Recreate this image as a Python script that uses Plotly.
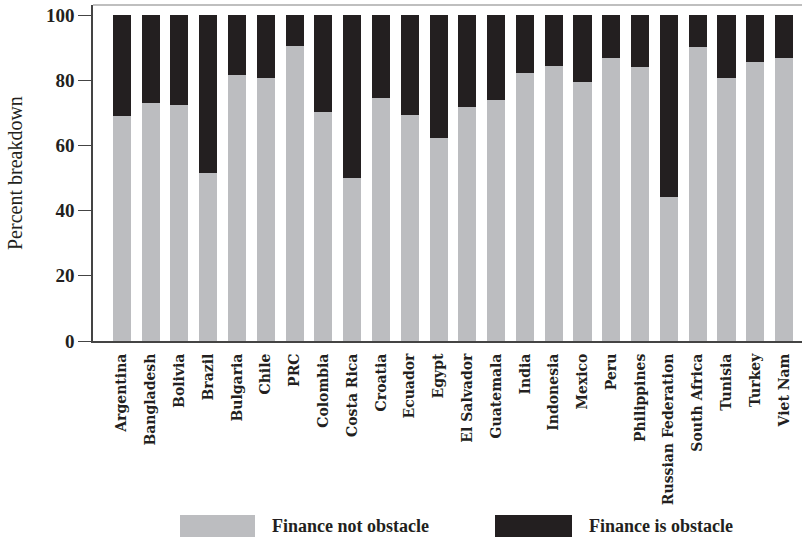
import plotly.graph_objects as go

countries = ["Argentina", "Bangladesh", "Bolivia", "Brazil", "Bulgaria", "Chile", "PRC",
             "Colombia", "Costa Rica", "Croatia", "Ecuador", "Egypt", "El Salvador",
             "Guatemala", "India", "Indonesia", "Mexico", "Peru", "Philippines",
             "Russian Federation", "South Africa", "Tunisia", "Turkey", "Viet Nam"]
not_obstacle = [69.0, 73.0, 72.3, 51.6, 81.7, 80.8, 90.4, 70.1, 50.1, 74.6, 69.4, 62.4,
                71.8, 73.8, 82.3, 84.5, 79.3, 86.9, 84.2, 44.1, 90.3, 80.8, 85.7, 86.8]
is_obstacle = [round(100 - v, 1) for v in not_obstacle]
y_ticks = [0, 20, 40, 60, 80, 100]

GRAY = "#BCBDC0"
BLACK = "#231F20"
SERIF = "Liberation Serif"
LABEL_FONT = "DejaVu Serif"

# plot-area geometry in pixels
L, T, R, B = 93, 5, 802, 341
W, H = R - L, B - T


def px(x):
    return (x - L) / W


def py(y):
    return (B - y) / H


fig = go.Figure()
fig.add_trace(go.Bar(x=countries, y=not_obstacle, name="Finance not obstacle",
                     marker=dict(color=GRAY, line=dict(width=0))))
fig.add_trace(go.Bar(x=countries, y=is_obstacle, name="Finance is obstacle",
                     marker=dict(color=BLACK, line=dict(width=0))))

fig.update_layout(
    width=802, height=540,
    barmode="stack", bargap=0.37,
    showlegend=False,
    plot_bgcolor="white", paper_bgcolor="white",
    margin=dict(l=L, r=802 - R, t=T, b=540 - B),
    font=dict(family=SERIF, color="#231F20"),
    xaxis=dict(
        type="category", range=[-1.0, 23.62], automargin=False,
        showline=True, linecolor="#444", linewidth=2,
        ticks="", tickangle=-90, ticklabelstandoff=5,
        tickfont=dict(family=LABEL_FONT, size=14, weight="bold", color="#231F20"),
        showgrid=False, zeroline=False,
    ),
    yaxis=dict(
        range=[0, 103.07], tickvals=y_ticks, automargin=False,
        showline=True, linecolor="#444", linewidth=1.5,
        ticks="outside", ticklen=13, tickcolor="#444", tickwidth=1.2,
        tickfont=dict(family=SERIF, size=19, weight="bold", color="#231F20"),
        showgrid=False, zeroline=False,
    ),
)

# y-axis title
fig.add_annotation(text="Percent breakdown", xref="paper", yref="paper",
                   x=px(15), y=py(173), xanchor="center", yanchor="middle",
                   textangle=-90, showarrow=False,
                   font=dict(family=SERIF, size=20, color="#231F20"))

# top frame line
fig.add_shape(type="line", xref="paper", yref="paper", x0=0, x1=1, y0=1, y1=1,
              line=dict(color="#AAAAAA", width=1.5))

# custom legend
legend_items = [("Finance not obstacle", GRAY, 180, 255, 270),
                ("Finance is obstacle", BLACK, 495, 572, 587)]
for name, col, bx0, bx1, tx in legend_items:
    fig.add_shape(type="rect", xref="paper", yref="paper",
                  x0=px(bx0), x1=px(bx1), y0=py(537), y1=py(515),
                  fillcolor=col, line=dict(width=0))
    fig.add_annotation(text=name, xref="paper", yref="paper",
                       x=px(tx), y=py(526),
                       xanchor="left", yanchor="middle", showarrow=False,
                       font=dict(family=SERIF, size=18, weight="bold", color="#231F20"))

fig.write_html("out.html", config={"displayModeBar": False})

with open("out.html", "r", encoding="utf-8") as f:
    html = f.read()
html = html.replace("<head>", "<head><style>html,body{margin:0;padding:0;overflow:hidden;}</style>", 1)
with open("out.html", "w", encoding="utf-8") as f:
    f.write(html)
